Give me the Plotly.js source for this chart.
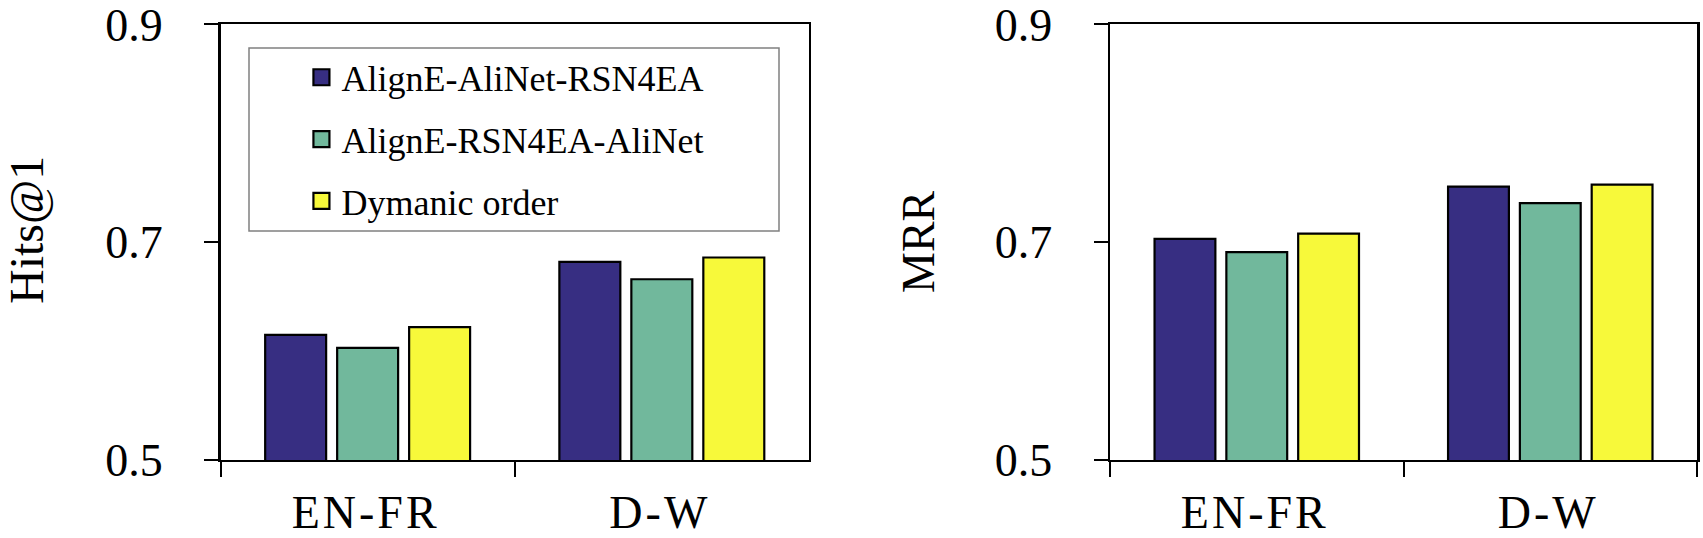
<!DOCTYPE html>
<html>
<head>
<meta charset="utf-8">
<script src="https://cdn.plot.ly/plotly-3.0.1.min.js"></script>
<style>
  html, body { margin: 0; padding: 0; background: #fff; }
  #chart { width: 1703px; height: 538px; }
  /* разреженные подписи категорий, как в исходнике */
  .xtick text, .x2tick text { letter-spacing: 3px; }
</style>
</head>
<body>
<div id="chart"></div>
<script>
// категории по оси X
const categories = ['EN-FR', 'D-W'];
// названия вариантов (легенда)
const seriesNames = [
  'AlignE-AliNet-RSN4EA',
  'AlignE-RSN4EA-AliNet',
  'Dymanic order',
];
// Hits@1 для каждой категории
const hitsAliNetRsn = [0.615, 0.682];
const hitsRsnAliNet = [0.603, 0.666];
const hitsDynamic = [0.622, 0.686];
// MRR для каждой категории
const mrrAliNetRsn = [0.703, 0.751];
const mrrRsnAliNet = [0.691, 0.736];
const mrrDynamic = [0.708, 0.753];
// деления оси Y
const yTicks = [0.5, 0.7, 0.9];
const yTickText = ['0.5', '0.7', '0.9'];

const colors = ['#372E82', '#71B89C', '#F7F93A'];
const FONT = 'Liberation Serif';

//собираем трейсы для одного графика
function makeTraces(values, xa, ya, showLegend) {
  return values.map((y, i) => ({
    type: 'bar',
    x: categories,
    y: y,
    name: seriesNames[i],
    xaxis: xa,
    yaxis: ya,
    showlegend: showLegend,
    legendgroup: 'g' + i,
    marker: { color: colors[i], line: { color: '#000', width: 2.2 } },
  }));
}

const data = [
  ...makeTraces([hitsAliNetRsn, hitsRsnAliNet, hitsDynamic], 'x', 'y', true),
  ...makeTraces([mrrAliNetRsn, mrrRsnAliNet, mrrDynamic], 'x2', 'y2', false),
];

//общие настройки осей
const xCommon = {
  type: 'category',
  range: [-0.5, 1.5],
  tickson: 'boundaries',
  ticks: 'outside',
  ticklen: 15,
  tickwidth: 2,
  tickcolor: '#000',
  showline: true,
  linewidth: 2.5,
  linecolor: '#000',
  mirror: true,
  showgrid: false,
  zeroline: false,
  tickfont: { family: FONT, size: 46, color: '#000' },
  ticklabelstandoff: 10,
  ticklabelshift: -2,
  ticklabeloverflow: 'allow',
};
const yCommon = {
  range: [0.5, 0.9],
  tickmode: 'array',
  tickvals: yTicks,
  ticktext: yTickText,
  ticks: 'outside',
  ticklen: 14,
  tickwidth: 2,
  tickcolor: '#000',
  showline: true,
  linewidth: 2.5,
  linecolor: '#000',
  mirror: true,
  showgrid: false,
  zeroline: false,
  domain: [0.145, 0.9545],
  tickfont: { family: FONT, size: 46, color: '#000' },
  ticklabelstandoff: 32,
  ticklabeloverflow: 'allow',
};

const layout = {
  width: 1703,
  height: 538,
  margin: { l: 0, r: 0, t: 0, b: 0, pad: 0 },
  paper_bgcolor: '#fff',
  plot_bgcolor: '#fff',
  barmode: 'group',
  bargap: 0.266,
  bargroupgap: 0.153,
  font: { family: FONT, color: '#000' },
  xaxis: { ...xCommon, domain: [0.1295, 0.475], anchor: 'y' },
  yaxis: { ...yCommon, anchor: 'x' },
  xaxis2: { ...xCommon, domain: [0.6518, 0.9965], anchor: 'y2' },
  yaxis2: { ...yCommon, anchor: 'x2' },
  showlegend: true,
  legend: {
    x: 0.177,
    y: 0.912,
    xanchor: 'left',
    yanchor: 'top',
    bgcolor: 'rgba(0,0,0,0)',
    borderwidth: 0,
    traceorder: 'grouped',
    tracegroupgap: 12,
    font: { family: FONT, size: 36, color: '#000' },
  },
  //рамка легенды
  shapes: [
    {
      type: 'rect',
      xref: 'paper',
      yref: 'paper',
      x0: 249 / 1703,
      x1: 779 / 1703,
      y0: 1 - 231 / 538,
      y1: 1 - 48 / 538,
      line: { color: '#808080', width: 1.5 },
    },
  ],
  //подписи осей Y
  annotations: [
    {
      text: 'Hits@1',
      xref: 'paper',
      yref: 'paper',
      x: 27 / 1703,
      y: 1 - 230 / 538,
      xanchor: 'center',
      yanchor: 'middle',
      textangle: -90,
      showarrow: false,
      font: { family: FONT, size: 48, color: '#000' },
    },
    {
      text: 'MRR',
      xref: 'paper',
      yref: 'paper',
      x: 918 / 1703,
      y: 1 - 242 / 538,
      xanchor: 'center',
      yanchor: 'middle',
      textangle: -90,
      showarrow: false,
      font: { family: FONT, size: 46, color: '#000' },
    },
  ],
};

Plotly.newPlot('chart', data, layout, { staticPlot: true }).then((gd) => {
  //квадратики легенды чуть крупнее стандартных
  gd.querySelectorAll('.legendpoints path').forEach((p) => {
    p.setAttribute('d', 'M8,8H-8V-8H8Z');
  });
});
</script>
</body>
</html>
